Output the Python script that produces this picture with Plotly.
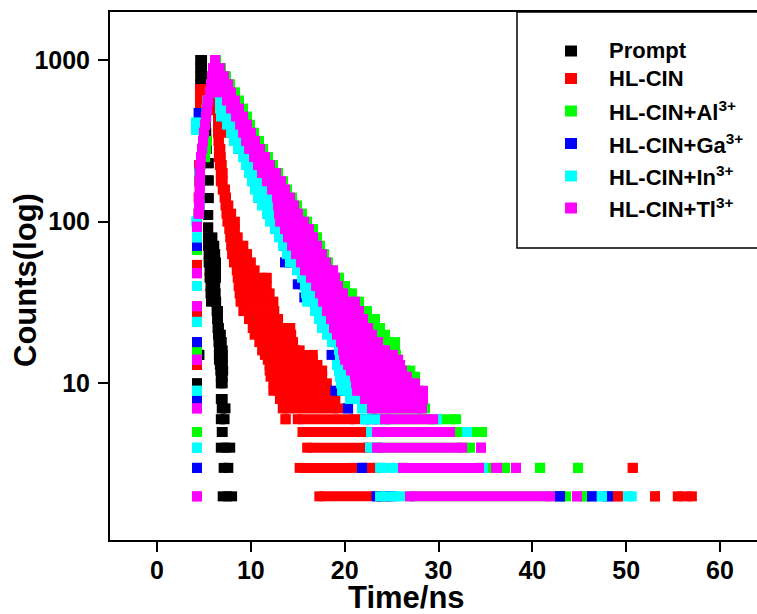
import plotly.graph_objects as go

# ---------------- data ----------------
series_names = ["Prompt", "HL-CIN", "HL-CIN+Al<sup>3+</sup>", "HL-CIN+Ga<sup>3+</sup>",
                "HL-CIN+In<sup>3+</sup>", "HL-CIN+Tl<sup>3+</sup>"]
series_colors = ["#000000", "#FF0000", "#00FF00", "#0000FF", "#00FFFF", "#FF00FF"]
x_ticks = [0, 10, 20, 30, 40, 50, 60]
y_ticks = [10, 100, 1000]
y_tick_text = ["10", "100", "1000"]

# Each entry: (counts, first time ns, last time ns) of a run of decay points at that count level
runs_prompt = [
    (10, 4.26, 4.26), (15, 4.5, 4.5),
    (1000, 4.6, 4.8), (891, 4.6, 4.8), (794, 4.6, 4.8), (708, 4.6, 4.8),
    (631, 4.65, 5.0), (562, 4.7, 5.05), (501, 4.8, 5.1), (447, 4.9, 5.15),
    (398, 5.0, 5.2), (355, 5.1, 5.25), (316, 5.2, 5.28), (282, 5.25, 5.3),
    (230, 5.5, 5.5), (180, 5.5, 5.5), (140, 5.5, 5.5), (110, 5.45, 5.45), (92, 5.45, 5.45),
    (80, 5.44, 5.9), (71, 5.44, 6.1), (63, 5.5, 6.2), (56, 5.5, 6.29), (50, 5.6, 6.29),
    (45, 5.6, 6.29), (40, 5.7, 6.2), (36, 5.7, 6.25), (32, 5.75, 6.3), (28, 6.35, 6.5),
    (25, 6.4, 6.5), (22, 6.45, 6.6), (20, 6.5, 6.8), (18, 6.55, 6.9), (16, 6.6, 7.0),
    (15, 6.6, 7.0), (14, 6.6, 7.0), (13, 6.7, 7.0), (12, 6.75, 7.05), (11, 6.8, 7.0),
    (10, 6.8, 7.0), (8, 6.8, 7.0), (7, 6.9, 7.3), (6, 6.8, 7.2), (5, 6.9, 7.0),
    (4, 6.8, 7.8), (3, 7.1, 7.6), (2, 7.0, 8.0),
]

runs_hlcin = [
    (54, 4.26, 4.26), (27, 4.26, 4.26), (13, 4.26, 4.26),
    (112, 4.45, 4.45), (141, 4.45, 4.45), (178, 4.5, 4.5), (224, 4.5, 4.5),
    (660, 4.58, 5.5), (600, 4.58, 5.8), (540, 4.58, 6.0), (490, 4.58, 6.2),
    (447, 6.5, 6.93), (398, 6.5, 6.93), (355, 6.5, 6.93), (316, 6.55, 6.6), (282, 6.6, 6.75),
    (251, 6.6, 6.8), (224, 6.7, 6.9), (200, 6.8, 7.0), (178, 6.8, 7.0), (158, 7.0, 7.25),
    (141, 7.2, 7.35), (126, 7.3, 7.6), (112, 7.4, 7.9), (100, 7.5, 8.3), (90, 7.7, 8.3),
    (80, 7.8, 8.6), (71, 7.9, 9.2), (63, 8.0, 9.6), (56, 8.2, 10.0), (50, 8.5, 10.4),
    (45, 8.6, 11.7), (40, 8.7, 11.7), (36, 8.8, 12.0), (32, 8.9, 12.4), (28, 9.2, 12.5),
    (25, 9.8, 12.9), (22, 10.2, 14.2), (20, 10.4, 14.3), (18, 10.9, 14.5), (16, 11.2, 15.2),
    (15, 11.5, 16.6), (14, 11.8, 16.6), (13, 12.0, 17.1), (12, 12.0, 17.6), (11, 12.1, 17.6),
    (10, 12.4, 18.1), (9, 12.4, 18.1), (8, 13.1, 19.0), (7, 13.4, 19.3), (6, 13.7, 13.7),
    (6, 15.0, 21.1), (5, 15.5, 22.5), (4, 16.0, 22.5), (3, 15.2, 20.8), (3, 22.3, 23.5),
    (2, 17.3, 24.0),
    (3, 50.7, 50.7), (2, 49.1, 49.1), (2, 53.07, 53.07), (2, 55.5, 57.0),
]

runs_al = [
    (100, 4.26, 4.26), (67, 4.26, 4.26), (16, 4.26, 4.26), (5, 4.26, 4.26),
    (112, 4.45, 4.45), (141, 4.5, 4.5), (178, 4.55, 4.55), (224, 4.6, 4.6),
    (251, 5.1, 5.1), (282, 5.2, 5.2), (316, 5.3, 5.3), (355, 5.0, 5.0),
    (398, 5.12, 5.12), (447, 5.23, 5.23), (501, 5.33, 5.33), (562, 5.44, 5.44),
    (1000, 6.18, 6.29), (891, 5.97, 6.82), (794, 5.86, 7.35), (708, 5.76, 7.78),
    (631, 5.65, 8.31), (562, 7.46, 8.74), (501, 7.89, 9.17), (447, 8.42, 9.59),
    (398, 8.85, 9.91), (355, 9.17, 10.34), (316, 9.49, 10.87), (282, 9.81, 11.30),
    (251, 10.34, 11.83), (224, 10.76, 12.36), (200, 11.19, 12.90), (178, 11.72, 13.43),
    (158, 12.26, 13.85), (141, 12.79, 14.39), (126, 12.90, 14.92), (112, 13.00, 15.45),
    (100, 13.11, 15.99), (90, 13.64, 16.63), (80, 13.96, 17.05), (71, 14.39, 17.37),
    (63, 14.81, 17.80), (56, 15.35, 18.22), (50, 15.77, 18.76), (45, 16.41, 19.40),
    (40, 16.95, 20.04), (36, 17.37, 20.78), (32, 17.69, 21.53), (28, 18.12, 22.38),
    (25, 18.54, 23.23), (22, 18.86, 23.77), (20, 19.18, 24.30), (18, 19.61, 25.37),
    (16, 19.82, 25.37), (15, 19.93, 25.47), (14, 20.04, 25.69), (13, 20.36, 25.90),
    (12, 20.68, 27.00), (11, 21.10, 27.50), (10, 21.21, 27.50), (9, 21.32, 27.93),
    (8, 22.17, 28.24), (7, 22.91, 28.56), (6, 24.30, 31.87), (5, 23.45, 34.64),
    (4, 23.45, 33.36), (3, 26.22, 35.10), (3, 37.10, 37.10), (3, 40.82, 40.82),
    (3, 44.87, 44.87), (2, 26.96, 43.60), (2, 45.60, 45.60),
]

runs_ga = [
    (71, 4.26, 4.26), (18, 4.26, 4.26), (8, 4.26, 4.26), (3, 4.26, 4.26), (470, 4.45, 4.45),
    (562, 5.44, 5.44), (398, 5.1, 5.1), (282, 4.8, 4.8), (200, 4.55, 4.55), (126, 4.5, 4.5),
    (708, 6.0, 6.6), (562, 6.8, 7.6), (447, 7.0, 8.2), (355, 8.0, 9.0), (282, 8.7, 9.8),
    (224, 9.6, 10.6), (178, 10.2, 11.5), (141, 10.8, 12.4), (112, 11.8, 13.0), (90, 12.6, 13.5),
    (71, 13.5, 14.3), (56, 13.64, 15.0), (45, 15.5, 16.2), (41, 15.0, 16.5), (34, 15.7, 17.0),
    (28, 16.9, 18.0), (22, 17.6, 18.8), (18, 18.7, 19.5), (15, 18.6, 19.6), (12, 19.45, 20.5),
    (9, 19.0, 20.0), (7, 20.36, 20.36), (6, 22.2, 23.5), (5, 22.9, 23.4), (3, 21.85, 21.85),
    (2, 23.4, 25.0),
    (2, 42.95, 42.95), (2, 46.36, 46.36), (2, 48.06, 48.06),
]

runs_in = [
    (100, 4.2, 4.2), (80, 4.26, 4.26), (40, 4.26, 4.26), (24, 4.26, 4.26), (9, 4.26, 4.26),
    (4, 4.26, 4.26),
    (410, 4.15, 4.15), (370, 4.15, 4.15), (126, 4.5, 4.5), (200, 4.55, 4.55), (282, 4.8, 4.8),
    (501, 5.3, 5.3), (562, 5.4, 5.4),
    (794, 6.0, 6.5), (708, 6.0, 6.8), (631, 6.2, 7.2), (562, 6.71, 7.8), (501, 6.71, 8.2),
    (447, 6.82, 8.7), (398, 7.46, 9.1), (355, 7.89, 9.4), (316, 8.20, 9.8), (282, 8.63, 10.1),
    (251, 9.17, 10.6), (224, 9.49, 11.0), (200, 9.81, 11.5), (178, 10.13, 12.0),
    (158, 10.44, 12.5), (141, 10.76, 13.0), (126, 11.19, 13.2), (112, 11.72, 13.3),
    (100, 12.04, 13.4), (90, 12.58, 13.9), (80, 13.00, 14.2), (71, 13.43, 14.6),
    (63, 13.85, 15.0), (56, 14.17, 15.6), (50, 14.92, 16.0), (45, 15.45, 16.6),
    (40, 15.77, 17.2), (36, 15.88, 17.6), (32, 15.99, 17.9), (28, 16.84, 18.3),
    (25, 17.26, 18.7), (22, 17.58, 19.0), (20, 18.12, 19.4), (18, 18.65, 19.8),
    (16, 19.4, 20.0), (15, 19.5, 20.1), (14, 19.5, 20.2), (13, 19.18, 20.5), (12, 19.40, 20.8),
    (11, 19.50, 21.2), (10, 19.61, 21.4), (9, 19.72, 21.5), (8, 20.57, 22.3), (7, 21.85, 23.0),
    (6, 22.17, 24.5), (5, 22.81, 23.6), (4, 22.70, 23.6), (3, 23.77, 25.2), (2, 23.77, 25.9),
    (6, 29.8, 29.8), (5, 33.04, 33.04), (3, 34.7, 34.7), (2, 47.4, 47.4), (2, 50.2, 50.6),
]

runs_tl = [
    (93, 4.26, 4.26), (48, 4.26, 4.26), (30, 4.26, 4.26), (14, 4.26, 4.26), (7, 4.26, 4.26),
    (2, 4.26, 4.26),
    (112, 4.45, 4.45), (126, 4.5, 4.5), (141, 4.5, 4.5), (158, 4.55, 4.55), (178, 4.55, 4.55),
    (200, 4.58, 4.58), (224, 4.6, 4.6), (251, 4.69, 4.69), (282, 4.8, 4.8), (316, 4.9, 4.9),
    (355, 5.0, 5.0), (398, 5.12, 5.12), (447, 5.23, 5.23), (501, 5.33, 5.33), (562, 5.44, 5.44),
    (1000, 6.18, 6.18), (891, 5.97, 6.71), (794, 5.86, 7.14), (708, 5.76, 7.57),
    (631, 5.65, 7.89), (562, 7.46, 8.31), (501, 7.89, 8.74), (447, 8.42, 9.17),
    (398, 8.85, 9.59), (355, 9.17, 10.02), (316, 9.49, 10.44), (282, 9.81, 10.98),
    (251, 10.34, 11.51), (224, 10.76, 12.04), (200, 11.19, 12.68), (178, 11.72, 13.22),
    (158, 12.26, 13.64), (141, 12.79, 14.17), (126, 12.90, 14.60), (112, 13.00, 15.03),
    (100, 13.11, 15.67), (90, 13.64, 16.20), (80, 13.96, 16.63), (71, 14.39, 17.05),
    (63, 14.81, 17.58), (56, 15.35, 18.01), (50, 15.77, 18.76), (45, 16.41, 18.97),
    (40, 16.95, 19.29), (36, 17.37, 19.82), (32, 17.69, 21.10), (28, 18.12, 21.53),
    (25, 18.54, 21.95), (22, 18.86, 22.49), (20, 19.18, 22.91), (18, 19.61, 23.55),
    (16, 19.82, 24.30), (15, 19.93, 25.15), (14, 20.04, 25.69), (13, 20.36, 25.90),
    (12, 20.68, 26.11), (11, 21.10, 26.64), (10, 21.21, 27.50), (9, 21.32, 28.35),
    (8, 22.17, 28.35), (7, 22.91, 28.24), (6, 24.30, 29.42), (5, 23.45, 31.23),
    (4, 23.45, 32.51), (4, 34.53, 34.53), (3, 26.22, 34.32), (3, 36.13, 36.24),
    (3, 38.26, 38.26), (2, 26.96, 41.88), (2, 44.76, 44.76),
]

all_runs = [runs_prompt, runs_hlcin, runs_al, runs_ga, runs_in, runs_tl]

# ---------------- layout geometry (pixels) ----------------
W, H = 757, 614
PL, PR, PT, PB = 110, 757, 12, 540
X_RANGE = [-5.01, 63.94]
Y_RANGE = [0.031, 3.297]
FONT = "Liberation Sans, Arial, sans-serif"


def px(xp):
    return (xp - PL) / (PR - PL)


def py(yp):
    return (PB - yp) / (PB - PT)


def run_xy(runs):
    xs, ys = [], []
    for c, t0, t1 in runs:
        xs += [t0, t1, None]
        ys += [c, c, None]
    return xs, ys


fig = go.Figure()
for name, col, runs in zip(series_names, series_colors, all_runs):
    xs, ys = run_xy(runs)
    fig.add_trace(go.Scatter(
        x=xs, y=ys, mode="lines+markers", name=name,
        line=dict(color=col, width=10),
        marker=dict(symbol="square", size=10, color=col, line=dict(width=0)),
        showlegend=False, hoverinfo="skip", connectgaps=False,
    ))

# legend box and entries
shapes = [dict(type="rect", xref="paper", yref="paper",
               x0=px(517), x1=px(800), y0=py(248), y1=py(12),
               line=dict(color="black", width=1.5), fillcolor="rgba(0,0,0,0)")]
annotations = []
legend_y = [51, 78.5, 111, 143.5, 176, 208]
for name, col, yc in zip(series_names, series_colors, legend_y):
    shapes.append(dict(type="rect", xref="paper", yref="paper",
                       x0=px(565), x1=px(577), y0=py(yc + 5.5), y1=py(yc - 5.5),
                       line=dict(width=0), fillcolor=col))
    annotations.append(dict(text=name, xref="paper", yref="paper", x=px(607), y=py(yc),
                            xanchor="left", yanchor="middle", showarrow=False,
                            font=dict(family=FONT, size=22, color="black", weight="bold")))

annotations.append(dict(text="Time/ns", xref="paper", yref="paper", x=px(406), y=py(597),
                        xanchor="center", yanchor="middle", showarrow=False,
                        font=dict(family=FONT, size=31, color="black", weight="bold")))
annotations.append(dict(text="Counts(log)", xref="paper", yref="paper", x=px(25), y=py(280),
                        xanchor="center", yanchor="middle", showarrow=False, textangle=-90,
                        font=dict(family=FONT, size=31, color="black", weight="bold")))

fig.update_layout(
    width=W, height=H,
    margin=dict(l=PL, r=W - PR, t=PT, b=H - PB, pad=0),
    paper_bgcolor="white", plot_bgcolor="white",
    font=dict(family=FONT, color="black", weight="bold"),
    showlegend=False,
    shapes=shapes, annotations=annotations,
    xaxis=dict(range=X_RANGE, tickvals=x_ticks, ticks="outside", ticklen=10, tickwidth=2,
               tickcolor="black", showline=True, linewidth=2, linecolor="black", mirror=True,
               showgrid=False, zeroline=False, ticklabelstandoff=-3,
               tickfont=dict(family=FONT, size=25, color="black", weight="bold")),
    yaxis=dict(type="log", range=Y_RANGE, tickvals=y_ticks, ticktext=y_tick_text,
               ticks="outside", ticklen=10, tickwidth=2, tickcolor="black",
               showline=True, linewidth=2, linecolor="black", mirror=False,
               showgrid=False, zeroline=False, ticklabelstandoff=3,
               tickfont=dict(family=FONT, size=25, color="black", weight="bold")),
)

fig.write_html("out.html")
